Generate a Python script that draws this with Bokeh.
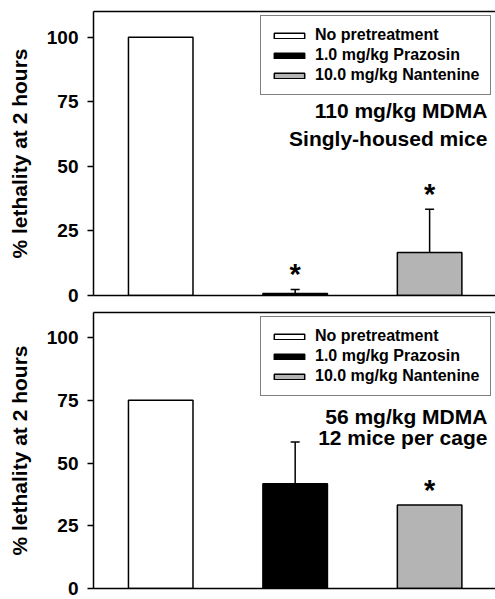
from bokeh.plotting import figure
from bokeh.layouts import column
from bokeh.models import Range1d, FixedTicker, LinearAxis, Legend, LegendItem, Label, ColumnDataSource
from bokeh.core.properties import value
from bokeh.embed import file_html
from bokeh.resources import INLINE

groups = ["No pretreatment", "1.0 mg/kg Prazosin", "10.0 mg/kg Nantenine"]
bar_colors = ["white", "black", "#b4b4b4"]

top_vals = [100, 0.8, 16.7]
top_err = [0, 1.5, 16.7]
top_sig = [False, True, True]
top_text = ["110 mg/kg MDMA", "Singly-housed mice"]

bot_vals = [75, 41.7, 33.3]
bot_err = [0, 16.7, 0]
bot_sig = [False, False, True]
bot_text = ["56 mg/kg MDMA", "12 mice per cage"]

y_ticks = [0, 25, 50, 75, 100]
y_label = "% lethality at 2 hours"

FONT = "Liberation Sans"


def panel(vals, errs, sig, texts, text_y, height, b_top, b_bottom):
    p = figure(width=495, height=height, x_range=Range1d(0, 2.99), y_range=Range1d(0, 110),
               output_backend="svg", toolbar_location=None,
               min_border_left=93, min_border_right=0,
               min_border_top=b_top, min_border_bottom=b_bottom)
    p.outline_line_color = None
    p.grid.visible = False
    p.background_fill_color = "white"

    # bottom axis line only
    xa = p.xaxis[0]
    xa.ticker = FixedTicker(ticks=[])
    xa.major_label_text_font_size = "0px"
    xa.major_tick_out = 0
    xa.major_tick_in = 0
    xa.minor_tick_out = 0
    xa.minor_tick_in = 0
    xa.major_label_standoff = 0
    xa.axis_line_width = 1.5
    xa.axis_line_color = "black"

    # top frame line
    ta = LinearAxis(ticker=FixedTicker(ticks=[]), major_label_text_font_size="0px",
                    major_tick_out=0, major_tick_in=0, minor_tick_out=0, minor_tick_in=0,
                    major_label_standoff=0, axis_line_width=1.5, axis_line_color="black")
    p.add_layout(ta, "above")

    ya = p.yaxis[0]
    ya.ticker = FixedTicker(ticks=y_ticks)
    ya.major_tick_out = 6
    ya.major_tick_in = 0
    ya.minor_tick_out = 0
    ya.minor_tick_in = 0
    ya.major_tick_line_width = 1.5
    ya.axis_line_width = 1.5
    ya.major_label_text_font = FONT
    ya.major_label_text_font_style = "bold"
    ya.major_label_text_font_size = "19px"
    ya.major_label_text_color = "black"
    ya.major_label_standoff = 9
    ya.axis_label = y_label
    ya.axis_label_text_font = FONT
    ya.axis_label_text_font_style = "bold"
    ya.axis_label_text_font_size = "21px"
    ya.axis_label_text_color = "black"
    ya.axis_label_standoff = 13

    xs = [i + 0.5 for i in range(len(groups))]
    items = []
    for i, g in enumerate(groups):
        r = p.vbar(x=[xs[i]], top=[vals[i]], bottom=0, width=0.48,
                   fill_color=bar_colors[i], line_color="black", line_width=1.5)
        items.append(LegendItem(label=g, renderers=[r]))

    # upper error bars
    ex = [xs[i] for i in range(len(xs)) if errs[i] > 0]
    e0 = [vals[i] for i in range(len(xs)) if errs[i] > 0]
    e1 = [vals[i] + errs[i] for i in range(len(xs)) if errs[i] > 0]
    if ex:
        p.segment(x0=ex, y0=e0, x1=ex, y1=e1, line_color="black", line_width=1.5)
        p.scatter(x=ex, y=e1, marker="dash", size=9, line_color="black", line_width=1.5)

    # significance asterisks
    sx = [xs[i] for i in range(len(xs)) if sig[i]]
    sy = [vals[i] + errs[i] + 6 for i in range(len(xs)) if sig[i]]
    src = ColumnDataSource(dict(x=sx, y=sy, t=["*"] * len(sx)))
    p.text(x="x", y="y", text="t", source=src, text_font=value(FONT), text_font_style="bold",
           text_font_size="29px", text_align="center", text_baseline="alphabetic",
           text_color="black")

    legend = Legend(items=items, location="top_right", margin=4, padding=9,
                    glyph_width=38, glyph_height=7, label_standoff=7,
                    label_height=20, label_width=166, spacing=0,
                    label_text_font=FONT, label_text_font_style="bold",
                    label_text_font_size="16px", label_text_color="black",
                    border_line_color="black", border_line_width=1.5,
                    background_fill_color="white", background_fill_alpha=1.0)
    p.add_layout(legend)

    for t, ty in zip(texts, text_y):
        p.add_layout(Label(x=2.93, y=ty, text=t, text_align="right", text_baseline="middle",
                           text_font=FONT, text_font_style="bold", text_font_size="21px",
                           text_color="black"))
    return p


p1 = panel(top_vals, top_err, top_sig, top_text, [71.8, 60.8], 306, 11, 11)
p2 = panel(bot_vals, bot_err, bot_sig, bot_text, [68.4, 60.0], 293, 6, 11)

layout = column(p1, p2, spacing=0)
open("out.html", "w").write(file_html(layout, INLINE))
